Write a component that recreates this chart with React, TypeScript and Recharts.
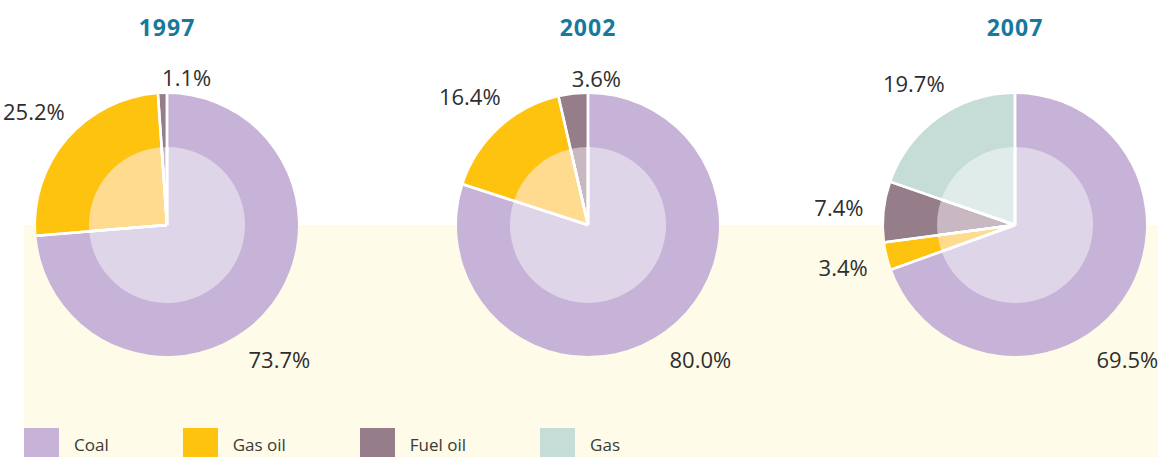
import { Pie, PieChart, Cell } from "recharts";

const years = ["1997", "2002", "2007"];
const fuels = ["Coal", "Gas oil", "Fuel oil", "Gas"];

// share of each fuel per year, in %
const coalShare = [73.7, 80.0, 69.5];
const gasOilShare = [25.2, 16.4, 3.4];
const fuelOilShare = [1.1, 3.6, 7.4];
const gasShare = [0, 0, 19.7];

const shares = [coalShare, gasOilShare, fuelOilShare, gasShare];

const outerColors = ["#c7b3d7", "#fec30f", "#957d8a", "#c6ddd7"];
const innerColors = ["#dfd5e9", "#fedb8f", "#c8b8c2", "#e0ecea"];

const pieCenters = [167, 588, 1015];
const CY = 225;
const OUTER = 131;
const INNER = 78;
const RAD = Math.PI / 180;

function yearData(yearIndex: number) {
    return fuels
        .map((name, i) => ({ name, value: shares[i][yearIndex], color: i }))
        .filter((d) => d.value > 0);
}

function separators(props: any) {
    const { cx, cy, outerRadius, startAngle, endAngle } = props;
    return [startAngle, endAngle].map((a: number, i: number) => (
        <line
            key={i}
            x1={cx}
            y1={cy}
            x2={cx + outerRadius * Math.cos(-a * RAD)}
            y2={cy + outerRadius * Math.sin(-a * RAD)}
            stroke="#fff"
            strokeWidth={2.5}
        />
    ));
}

function outerLabel(props: any) {
    const { cx, cy, midAngle, outerRadius, percent, value } = props;
    // the big coal slice carries its label at the lower right
    const angle = percent > 0.5 ? -50 : midAngle;
    const c = Math.cos(angle * RAD);
    const s = Math.sin(angle * RAD);
    let x: number;
    let y: number;
    let anchor: "start" | "middle" = "middle";
    if (s > 0.9) {
        x = cx + (outerRadius + 12) * c;
        y = cy - (outerRadius + 12) * s - 5;
        anchor = "start";
    } else {
        const r = outerRadius + 40 + 6 * Math.abs(c);
        x = cx + r * c;
        y = cy - r * s;
    }
    return (
        <g>
            {separators(props)}
            <text
                x={x}
                y={y}
                textAnchor={anchor}
                dominantBaseline="central"
                fill="#2e2e2e"
                stroke="none"
                fontSize={22}
                fontFamily="'Open Sans', sans-serif"
            >
                {`${Number(value).toFixed(1)}%`}
            </text>
        </g>
    );
}

function innerLabel(props: any) {
    return <g>{separators(props)}</g>;
}

export default function App() {
    return (
        <div
            style={{
                position: "absolute",
                left: 0,
                top: 0,
                width: 1158,
                height: 457,
                overflow: "hidden",
                background: "#fff",
                fontFamily: "'Open Sans', sans-serif",
            }}
        >
            <div
                style={{
                    position: "absolute",
                    left: 24,
                    top: CY,
                    right: 0,
                    bottom: 0,
                    background: "#fefbe9",
                }}
            />

            {years.map((y, i) => (
                <div
                    key={y}
                    style={{
                        position: "absolute",
                        left: pieCenters[i] - 60,
                        width: 120,
                        top: 11,
                        textAlign: "center",
                        fontSize: 23,
                        fontWeight: 700,
                        letterSpacing: 1,
                        color: "#17799d",
                        lineHeight: "32px",
                    }}
                >
                    {y}
                </div>
            ))}

            <div style={{ position: "absolute", left: 0, top: 0 }}>
                <PieChart
                    width={1158}
                    height={457}
                    margin={{ top: 0, right: 0, bottom: 0, left: 0 }}
                >
                    {years.map((y, i) => (
                        <Pie
                            key={`o${y}`}
                            data={yearData(i)}
                            dataKey="value"
                            nameKey="name"
                            cx={pieCenters[i]}
                            cy={CY}
                            innerRadius={0}
                            outerRadius={OUTER}
                            startAngle={90}
                            endAngle={-270}
                            stroke="none"
                            label={outerLabel}
                            labelLine={false}
                            isAnimationActive={false}
                        >
                            {yearData(i).map((d) => (
                                <Cell key={d.name} fill={outerColors[d.color]} />
                            ))}
                        </Pie>
                    ))}
                    {years.map((y, i) => (
                        <Pie
                            key={`i${y}`}
                            data={yearData(i)}
                            dataKey="value"
                            nameKey="name"
                            cx={pieCenters[i]}
                            cy={CY}
                            innerRadius={0}
                            outerRadius={INNER}
                            startAngle={90}
                            endAngle={-270}
                            stroke="none"
                            label={innerLabel}
                            labelLine={false}
                            isAnimationActive={false}
                        >
                            {yearData(i).map((d) => (
                                <Cell key={d.name} fill={innerColors[d.color]} />
                            ))}
                        </Pie>
                    ))}
                </PieChart>
            </div>

            <div
                style={{
                    position: "absolute",
                    left: 24,
                    top: 428,
                    display: "flex",
                    alignItems: "flex-start",
                }}
            >
                {fuels.map((f, i) => (
                    <div
                        key={f}
                        style={{ display: "flex", alignItems: "flex-start", marginRight: 74 }}
                    >
                        <span
                            style={{
                                width: 35,
                                height: 29,
                                background: outerColors[i],
                                display: "inline-block",
                            }}
                        />
                        <span
                            style={{
                                marginLeft: 15,
                                marginTop: 5,
                                fontSize: 17,
                                lineHeight: "24px",
                                color: "#3a3a3a",
                            }}
                        >
                            {f}
                        </span>
                    </div>
                ))}
            </div>
        </div>
    );
}
